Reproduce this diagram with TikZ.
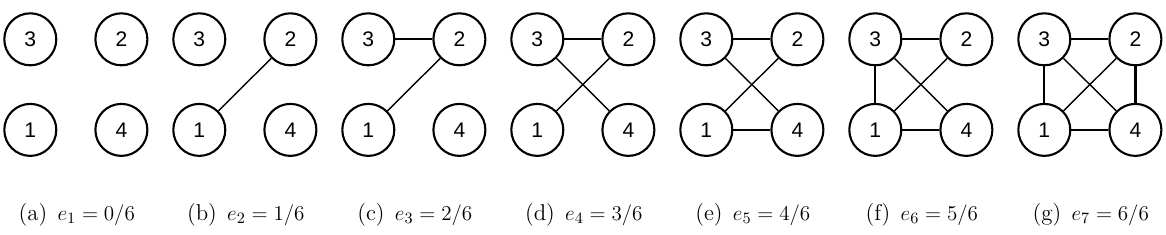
\documentclass[tikz,border=0pt]{standalone}
\usepackage{fontspec}
\newfontfamily\vertexfont{Liberation Sans}
\usetikzlibrary{positioning}

\tikzset{
  vertex/.style={circle,draw,line width=1.2pt,minimum size=1.04cm,inner sep=0pt,
    font=\vertexfont\fontsize{12}{14}\selectfont},
  thinedge/.style={line width=0.8pt},
  thickedge/.style={line width=1.3pt},
  subcap/.style={anchor=base,font=\fontsize{13}{15}\selectfont},
}

\begin{document}
\begin{tikzpicture}[x=0.02cm,y=0.02cm]
  \useasboundingbox (0,0) rectangle (1166,234);
  \foreach \p/\n/\m [count=\k from 0] in {a/1/0,b/2/1,c/3/2,d/4/3,e/5/4,f/6/5,g/7/6}{
    \pgfmathsetmacro{\xo}{30.3+169*\k}
    \node[vertex] (\p3) at (\xo,194.7) {3};
    \node[vertex,right=0.74cm of \p3] (\p2) {2};
    \node[vertex,below=0.73cm of \p3] (\p1) {1};
    \node[vertex,right=0.74cm of \p1] (\p4) {4};
    \node[subcap] (cap\p) at (\xo+46.5,14) {(\p)\hspace{0.45em}$e_{\n}=\m/6$};
    % kanten kommen nacheinander dazu
    \ifnum\k>0 \draw[thinedge] (\p1) -- (\p2); \fi
    \ifnum\k>1 \draw[thickedge] (\p3) -- (\p2); \fi
    \ifnum\k>2 \draw[thinedge] (\p3) -- (\p4); \fi
    \ifnum\k>3 \draw[thickedge] (\p1) -- (\p4); \fi
    \ifnum\k>4 \draw[thickedge] (\p3) -- (\p1); \fi
    \ifnum\k>5 \draw[thickedge] (\p2) -- (\p4); \fi
  }
\end{tikzpicture}
\end{document}
